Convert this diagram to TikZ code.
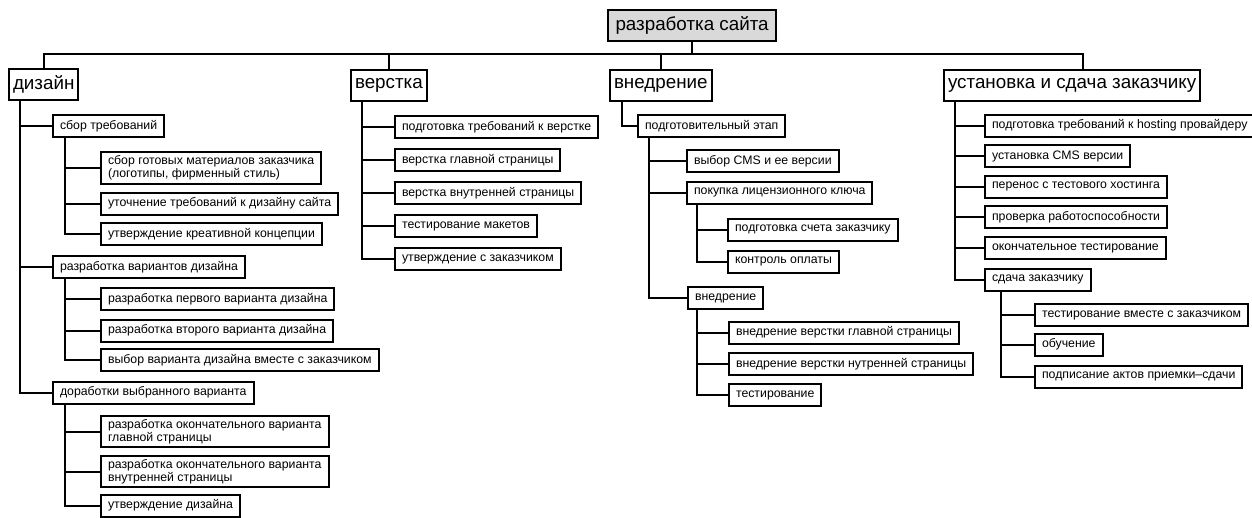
\documentclass[tikz,border=0pt]{standalone}
\usepackage{fontspec}
\setmainfont{Liberation Sans}
\definecolor{rootgray}{HTML}{D9D9D9}

\begin{document}
\begin{tikzpicture}[x=1pt, y=-1pt, line width=2pt,
    taskbox/.style={draw, rectangle, anchor=west, align=left, minimum height=22pt,
      inner xsep=7pt, inner ysep=3.3pt, font=\fontsize{12.3}{13}\selectfont},
    phasebox/.style={draw, rectangle, anchor=west, minimum height=31pt,
      inner xsep=4pt, font=\fontsize{18.8}{21}\selectfont},
    rootbox/.style={phasebox, fill=rootgray, inner xsep=7.5pt}]
  \useasboundingbox (0,0) rectangle (1252,517);

  \node[rootbox] (RS) at (607,25.5) {разработка сайта};

  \node[phasebox] (DZ) at (8,84) {дизайн};
  \node[phasebox] (VR) at (350,85.5) {верстка};
  \node[phasebox] (VN) at (609,85) {внедрение};
  \node[phasebox] (US) at (943,85) {установка и сдача заказчику};

  \node[taskbox] (DZ1) at (52,126) {сбор требований};
  \node[taskbox] (DZ11) at (100,168) {сбор готовых материалов заказчика\\(логотипы, фирменный стиль)};
  \node[taskbox] (DZ12) at (100,203.5) {уточнение требований к дизайну сайта};
  \node[taskbox] (DZ13) at (100,234) {утверждение креативной концепции};
  \node[taskbox] (DZ2) at (52,267) {разработка вариантов дизайна};
  \node[taskbox] (DZ21) at (100,299) {разработка первого варианта дизайна};
  \node[taskbox] (DZ22) at (100,330.5) {разработка второго варианта дизайна};
  \node[taskbox] (DZ23) at (100,360) {выбор варианта дизайна вместе с заказчиком};
  \node[taskbox] (DZ3) at (52,392.5) {доработки выбранного варианта};
  \node[taskbox] (DZ31) at (100,431.5) {разработка окончательного варианта\\главной страницы};
  \node[taskbox] (DZ32) at (100,471.5) {разработка окончательного варианта\\внутренней страницы};
  \node[taskbox] (DZ33) at (100,505.5) {утверждение дизайна};

  \node[taskbox] (VR1) at (394,127) {подготовка требований к верстке};
  \node[taskbox] (VR2) at (394,160) {верстка главной страницы};
  \node[taskbox] (VR3) at (394,193) {верстка внутренней страницы};
  \node[taskbox] (VR4) at (394,226) {тестирование макетов};
  \node[taskbox] (VR5) at (394,259) {утверждение с заказчиком};

  \node[taskbox] (VN1) at (637,126) {подготовительный этап};
  \node[taskbox] (VN11) at (686,161) {выбор CMS и ее версии};
  \node[taskbox] (VN12) at (686,192.5) {покупка лицензионного ключа};
  \node[taskbox] (VN121) at (727,229.5) {подготовка счета заказчику};
  \node[taskbox] (VN122) at (727,261.5) {контроль оплаты};
  \node[taskbox] (VN13) at (687,298) {внедрение};
  \node[taskbox] (VN131) at (728,332.5) {внедрение верстки главной страницы};
  \node[taskbox] (VN132) at (728,364) {внедрение верстки нутренней страницы};
  \node[taskbox] (VN133) at (728,395) {тестирование};

  \node[taskbox] (US1) at (984,125.5) {подготовка требований к hosting провайдеру};
  \node[taskbox] (US2) at (984,156) {установка CMS версии};
  \node[taskbox] (US3) at (984,186.5) {перенос с тестового хостинга};
  \node[taskbox] (US4) at (984,217) {проверка работоспособности};
  \node[taskbox] (US5) at (984,248) {окончательное тестирование};
  \node[taskbox] (US6) at (984,279.5) {сдача заказчику};
  \node[taskbox] (US61) at (1034,315) {тестирование вместе с заказчиком};
  \node[taskbox] (US62) at (1034,344.5) {обучение};
  \node[taskbox] (US63) at (1034,376.5) {подписание актов приемки–сдачи};

  \coordinate (bus) at (0,54);
  \coordinate (UStop) at ([xshift=11pt]US.north);
  \draw (RS.south) -- (RS.south |- bus);
  \draw (DZ.north) |- (UStop |- bus) -- (UStop);
  \draw (VR.north) -- (VR.north |- bus);
  \draw (VN.north) -- (VN.north |- bus);

  \draw ([xshift=12pt]DZ.south west) |- (DZ1.west) ([xshift=12pt]DZ.south west) |- (DZ2.west)
        ([xshift=12pt]DZ.south west) |- (DZ3.west);
  \draw ([xshift=13pt]DZ1.south west) |- (DZ11.west) ([xshift=13pt]DZ1.south west) |- (DZ12.west)
        ([xshift=13pt]DZ1.south west) |- (DZ13.west);
  \draw ([xshift=13pt]DZ2.south west) |- (DZ21.west) ([xshift=13pt]DZ2.south west) |- (DZ22.west)
        ([xshift=13pt]DZ2.south west) |- (DZ23.west);
  \draw ([xshift=13pt]DZ3.south west) |- (DZ31.west) ([xshift=13pt]DZ3.south west) |- (DZ32.west)
        ([xshift=13pt]DZ3.south west) |- (DZ33.west);

  \draw ([xshift=12pt]VR.south west) |- (VR1.west) ([xshift=12pt]VR.south west) |- (VR2.west)
        ([xshift=12pt]VR.south west) |- (VR3.west) ([xshift=12pt]VR.south west) |- (VR4.west)
        ([xshift=12pt]VR.south west) |- (VR5.west);

  \draw ([xshift=13pt]VN.south west) |- (VN1.west);
  \draw ([xshift=12pt]VN1.south west) |- (VN11.west) ([xshift=12pt]VN1.south west) |- (VN12.west)
        ([xshift=12pt]VN1.south west) |- (VN13.west);
  \draw ([xshift=11pt]VN12.south west) |- (VN121.west) ([xshift=11pt]VN12.south west) |- (VN122.west);
  \draw ([xshift=10pt]VN13.south west) |- (VN131.west) ([xshift=10pt]VN13.south west) |- (VN132.west)
        ([xshift=10pt]VN13.south west) |- (VN133.west);

  \draw ([xshift=12pt]US.south west) |- (US1.west) ([xshift=12pt]US.south west) |- (US2.west)
        ([xshift=12pt]US.south west) |- (US3.west) ([xshift=12pt]US.south west) |- (US4.west)
        ([xshift=12pt]US.south west) |- (US5.west) ([xshift=12pt]US.south west) |- (US6.west);
  \draw ([xshift=17pt]US6.south west) |- (US61.west) ([xshift=17pt]US6.south west) |- (US62.west)
        ([xshift=17pt]US6.south west) |- (US63.west);
\end{tikzpicture}
\end{document}
